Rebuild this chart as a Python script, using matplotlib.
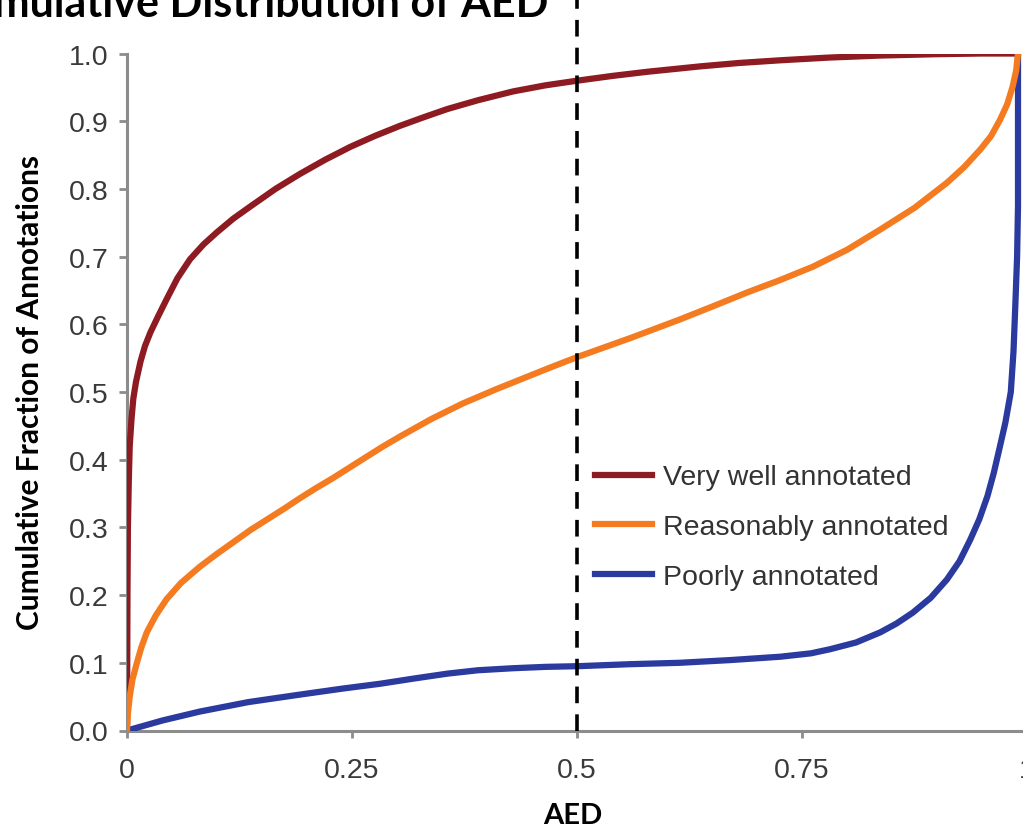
import numpy as np
import matplotlib
matplotlib.use('Agg')
import matplotlib.pyplot as plt

# values
aed_ticks = [0, 0.25, 0.5, 0.75, 1]
aed_labels = ['0', '0.25', '0.5', '0.75', '1']
frac_ticks = [0.0, 0.1, 0.2, 0.3, 0.4, 0.5, 0.6, 0.7, 0.8, 0.9, 1.0]

very_x = [0, 0.0005, 0.001, 0.002, 0.003, 0.005, 0.007, 0.010, 0.015, 0.020, 0.026, 0.035,
          0.044, 0.056, 0.070, 0.085, 0.100, 0.118, 0.137, 0.165, 0.192, 0.220, 0.248,
          0.275, 0.303, 0.330, 0.356, 0.390, 0.429, 0.465, 0.501, 0.540, 0.578, 0.637,
          0.680, 0.726, 0.780, 0.837, 0.900, 0.950, 0.99]
very_y = [0, 0.20, 0.30, 0.37, 0.42, 0.46, 0.49, 0.515, 0.545, 0.568, 0.588, 0.613,
          0.637, 0.668, 0.696, 0.718, 0.736, 0.756, 0.774, 0.800, 0.822, 0.843, 0.862,
          0.878, 0.893, 0.906, 0.918, 0.931, 0.944, 0.953, 0.960, 0.967, 0.973, 0.981,
          0.986, 0.990, 0.994, 0.997, 0.999, 1.0, 1.0]

reas_x = [0, 0.001, 0.003, 0.006, 0.011, 0.016, 0.022, 0.032, 0.044, 0.060, 0.081, 0.100,
          0.118, 0.137, 0.156, 0.175, 0.192, 0.210, 0.229, 0.248, 0.267, 0.285, 0.303,
          0.338, 0.373, 0.410, 0.440, 0.470, 0.501, 0.560, 0.614, 0.650, 0.689, 0.725,
          0.762, 0.800, 0.837, 0.875, 0.911, 0.930, 0.948, 0.960, 0.970, 0.978, 0.984,
          0.988, 0.99]
reas_y = [0, 0.025, 0.05, 0.075, 0.10, 0.123, 0.145, 0.170, 0.194, 0.218, 0.242, 0.261,
          0.278, 0.296, 0.312, 0.328, 0.343, 0.358, 0.373, 0.389, 0.405, 0.420, 0.434,
          0.460, 0.483, 0.504, 0.520, 0.536, 0.552, 0.580, 0.607, 0.626, 0.647, 0.665,
          0.685, 0.710, 0.740, 0.772, 0.809, 0.832, 0.858, 0.878, 0.902, 0.925, 0.951,
          0.975, 1.0]

poor_x = [0, 0.040, 0.081, 0.135, 0.192, 0.240, 0.281, 0.320, 0.356, 0.390, 0.429, 0.465,
          0.501, 0.560, 0.614, 0.670, 0.726, 0.760, 0.781, 0.810, 0.837, 0.855, 0.873,
          0.893, 0.911, 0.925, 0.937, 0.947, 0.956, 0.963, 0.970, 0.976, 0.982, 0.985,
          0.987, 0.989, 0.990, 0.990]
poor_y = [0, 0.015, 0.028, 0.042, 0.053, 0.062, 0.069, 0.077, 0.084, 0.089, 0.092, 0.094,
          0.095, 0.098, 0.100, 0.104, 0.109, 0.114, 0.120, 0.130, 0.145, 0.158, 0.174,
          0.196, 0.223, 0.250, 0.282, 0.312, 0.346, 0.380, 0.42, 0.455, 0.50, 0.560,
          0.627, 0.700, 0.775, 1.0]

cut_off = 0.5

plt.rcParams['lines.scale_dashes'] = False
plt.rcParams['font.family'] = ['Liberation Sans', 'DejaVu Sans']

fig = plt.figure(figsize=(10.23, 8.29), dpi=100)
ax = fig.add_axes([127/1023, (829-731.5)/829, 900/1023, 677/829])

red = '#8e1a22'
orange = '#f47b20'
blue = '#2b3a9e'
lw = 4.5

ax.plot(very_x, very_y, color=red, lw=lw, solid_joinstyle='round', label='Very well annotated', zorder=3)
ax.plot(poor_x, poor_y, color=blue, lw=lw, solid_joinstyle='round', label='Poorly annotated', zorder=3)
ax.plot(reas_x, reas_y, color=orange, lw=lw, solid_joinstyle='round', label='Reasonably annotated', zorder=4)
ax.plot([cut_off, cut_off], [0, 1.12], color='black', lw=2.6, dashes=(12, 8), clip_on=False, zorder=5)

ax.set_xlim(0, 1)
ax.set_ylim(0, 1)
ax.set_xticks(aed_ticks)
ax.set_xticklabels(aed_labels)
ax.set_yticks(frac_ticks)
ax.set_yticklabels(['%.1f' % v for v in frac_ticks])

for s in ['top', 'right']:
    ax.spines[s].set_visible(False)
for s in ['left', 'bottom']:
    ax.spines[s].set_color('#8c8c8c')
    ax.spines[s].set_linewidth(2.2)
ax.tick_params(axis='both', colors='#8c8c8c', labelcolor='#3a3a3a', labelsize=20.5, width=2)
ax.tick_params(axis='x', length=5, pad=14)
ax.tick_params(axis='y', length=5.5, pad=7.5)

h, l = ax.get_legend_handles_labels()
order = [0, 2, 1]
leg = ax.legend([h[i] for i in order], [l[i] for i in order], loc='center left',
                bbox_to_anchor=(0.52, 0.30), frameon=False, fontsize=20.5,
                handlelength=2.0, handletextpad=0.4, labelspacing=0.84,
                borderpad=0, borderaxespad=0)
for t in leg.get_texts():
    t.set_color('#333333')

fig.text(548/1023, (829-17)/829, 'Cumulative Distribution of AED', ha='right', va='baseline',
         fontsize=31, fontweight='bold', family='Lato')
fig.text(30/1023, (829-393)/829, 'Cumulative Fraction of Annotations', rotation=90,
         ha='center', va='center', fontsize=21.5, fontweight='bold', family='Lato')
fig.text(573/1023, (829-816)/829, 'AED', ha='center', va='center',
         fontsize=21, fontweight='bold', family='Lato')

fig.savefig('out.png', dpi=100)
